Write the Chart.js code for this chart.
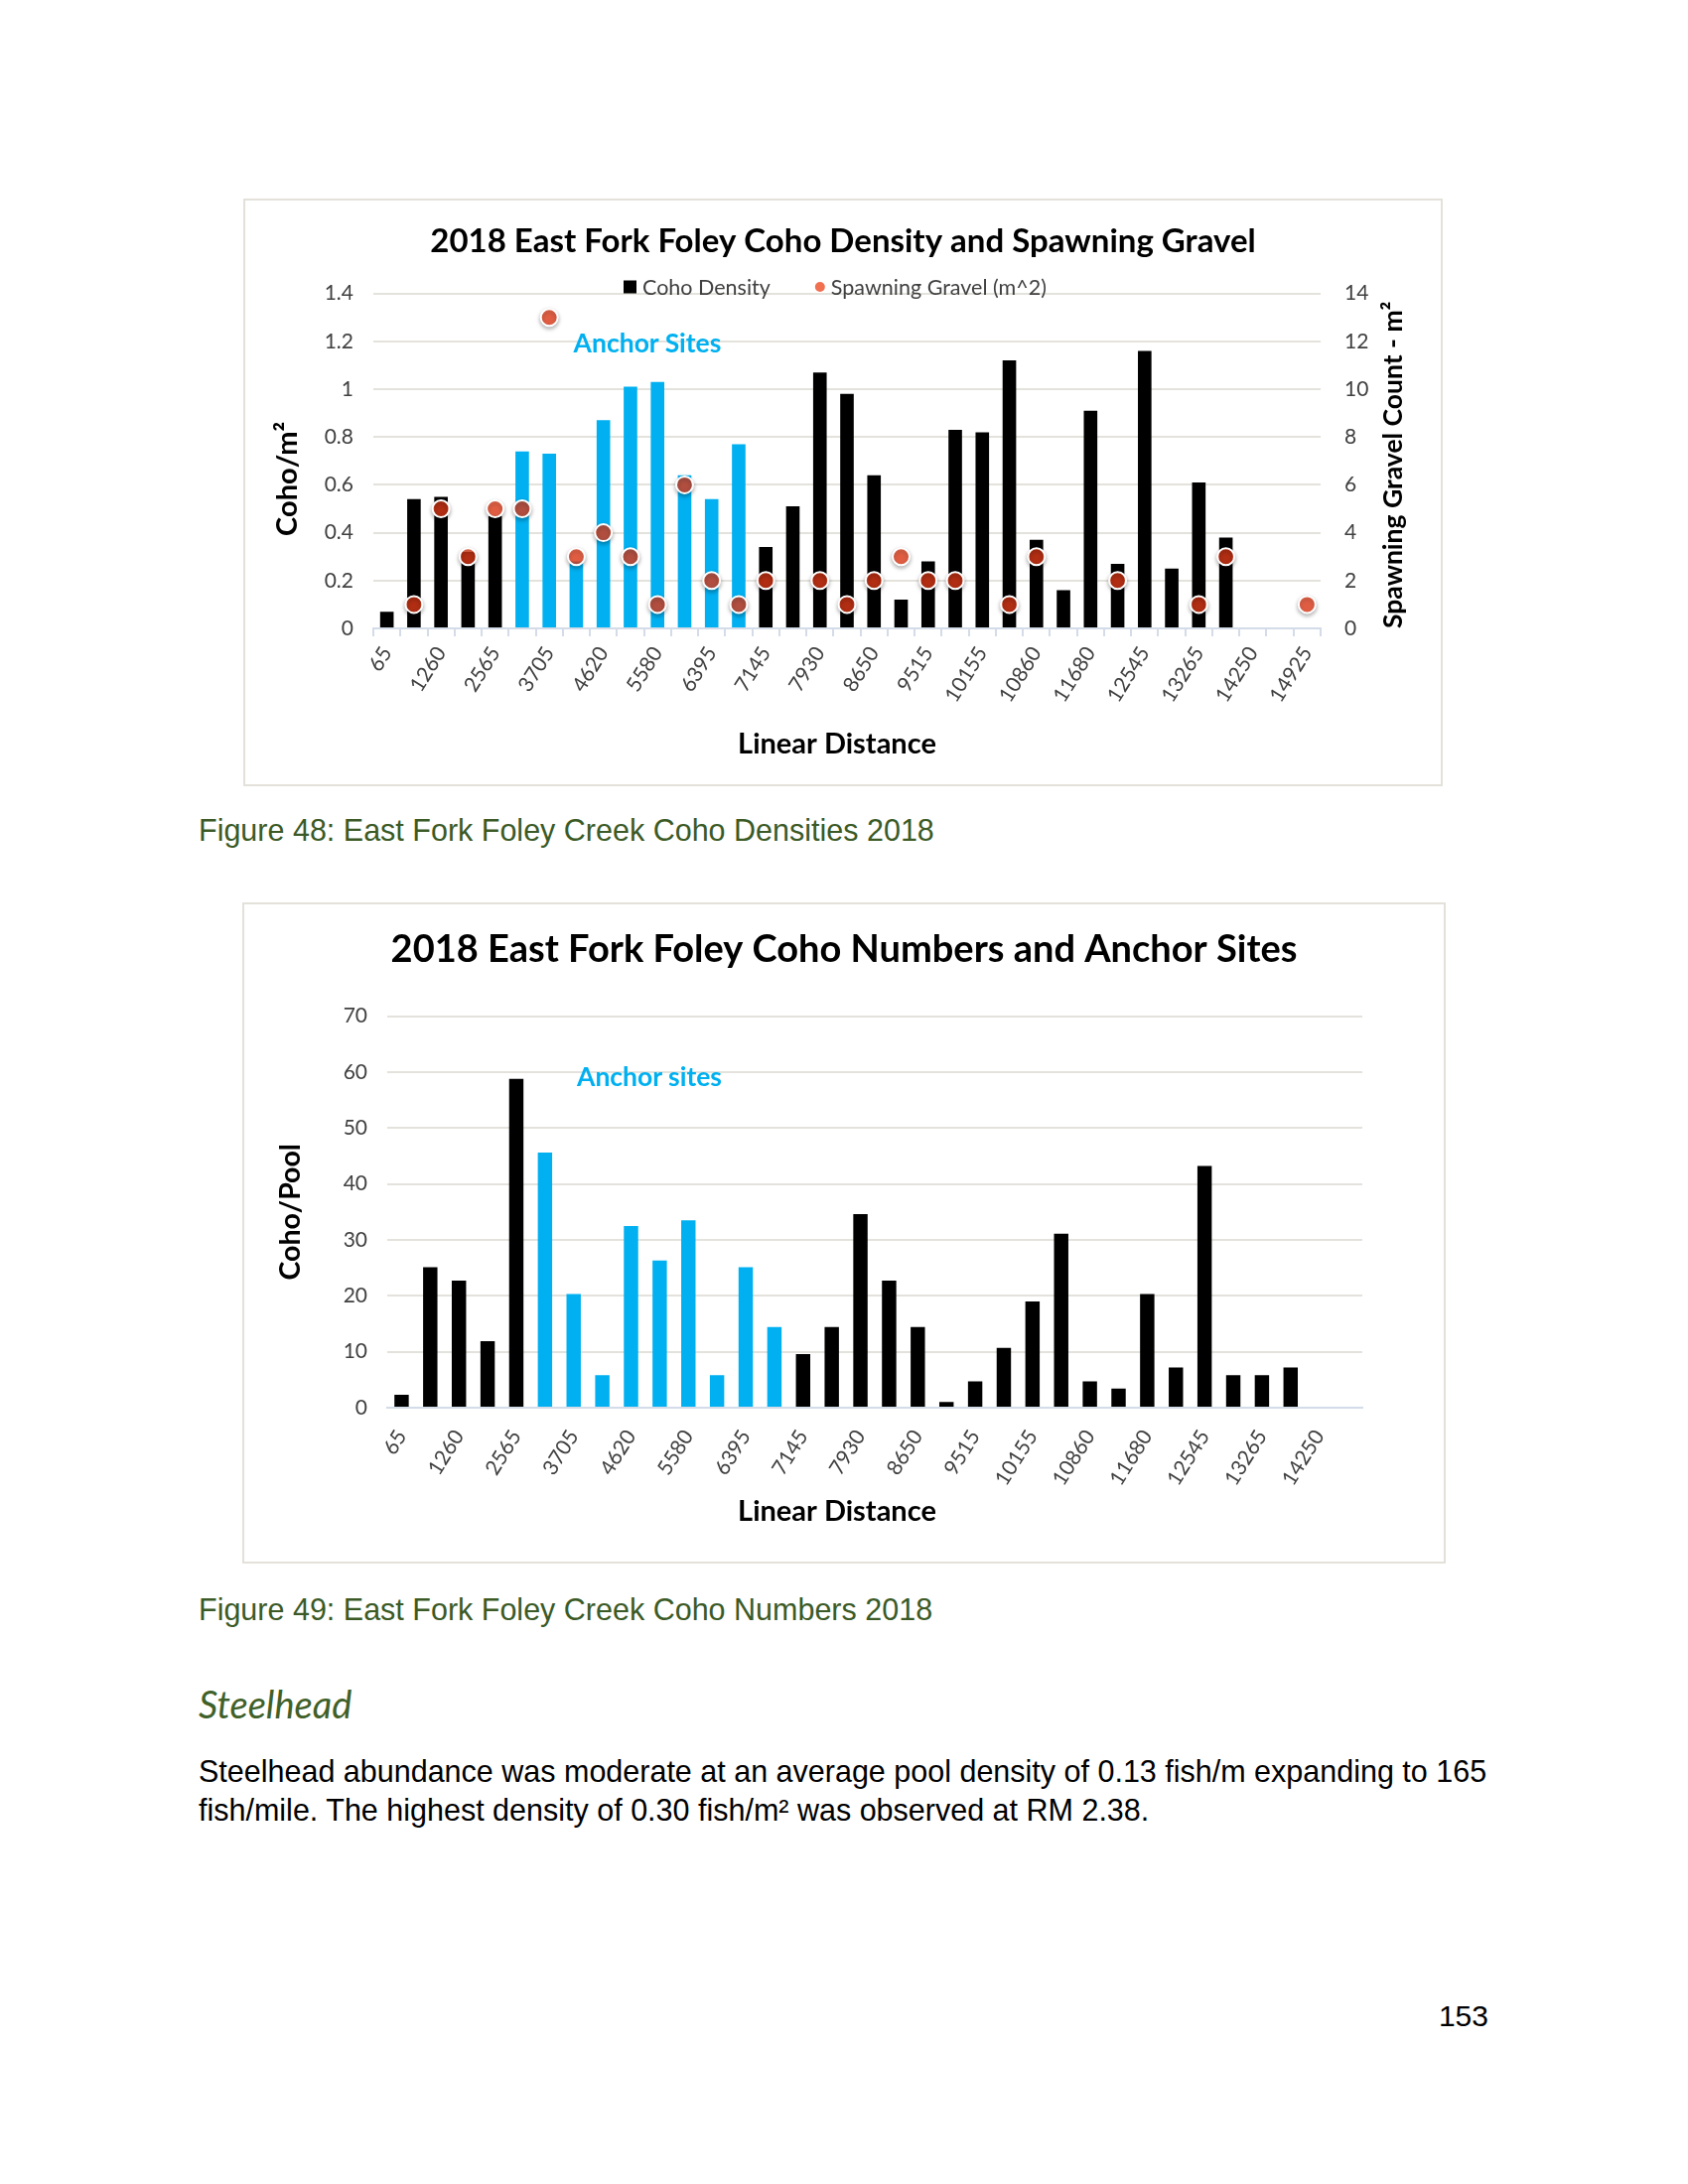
<!DOCTYPE html>
<html>
<head>
<meta charset="utf-8">
<script src="https://cdn.jsdelivr.net/npm/chart.js@4.4.0/dist/chart.umd.min.js"></script>
<style>
  body { margin: 0; background: #fff; }
  #page { position: relative; width: 1700px; height: 2200px; overflow: hidden; font-family: 'Liberation Sans', Arial, sans-serif; }
  .frame { position: absolute; border: 2px solid #e3e1d9; box-sizing: border-box; }
  canvas { position: absolute; }
  .anchor { position: absolute; font-family: Lato, sans-serif; font-weight: bold; color: #00b0f0; font-size: 26.5px; transform: translate(-50%, -50%); white-space: nowrap; }
  .caption { position: absolute; left: 200px; color: #3b5a26; font-size: 30.5px; line-height: 1; }
  .heading { position: absolute; left: 200px; top: 1697px; color: #3f6028; font-family: Lato, sans-serif; font-style: italic; font-size: 38px; line-height: 1; }
  .para { position: absolute; left: 200px; top: 1765px; font-size: 30.5px; line-height: 39px; color: #000; width: 1360px; white-space: nowrap; }
  .pagenum { position: absolute; right: 201px; top: 2016px; font-size: 30px; line-height: 1; }
</style>
</head>
<body>
<div id="page">
  <div class="frame" style="left:245px; top:200px; width:1208px; height:592px;"></div>
  <canvas id="c1" width="1204" height="588" style="left:247px; top:202px;"></canvas>
  <div class="anchor" style="left:652px; top:345px;">Anchor Sites</div>
  <div class="caption" style="top:821px;">Figure 48: East Fork Foley Creek Coho Densities 2018</div>

  <div class="frame" style="left:244px; top:909px; width:1212px; height:666px;"></div>
  <canvas id="c2" width="1208" height="662" style="left:246px; top:911px;"></canvas>
  <div class="anchor" style="left:654px; top:1084px;">Anchor sites</div>
  <div class="caption" style="top:1606px;">Figure 49: East Fork Foley Creek Coho Numbers 2018</div>

  <div class="heading">Steelhead</div>
  <div class="para">Steelhead abundance was moderate at an average pool density of 0.13 fish/m expanding to 165<br>fish/mile. The highest density of 0.30 fish/m² was observed at RM 2.38.</div>
  <div class="pagenum">153</div>
</div>
<script>
// etiquetas visibles, una de cada dos categorias
const tickLabels = ['65', '1260', '2565', '3705', '4620', '5580', '6395', '7145', '7930', '8650',
  '9515', '10155', '10860', '11680', '12545', '13265', '14250', '14925']
const densityCount = 35
const numbersCount = 34
const anchorSites = [5, 6, 7, 8, 9, 10, 11, 12, 13]

const cohoDensity = [0.07, 0.54, 0.55, 0.32, 0.47, 0.74, 0.73, 0.28, 0.87, 1.01, 1.03, 0.64, 0.54, 0.77,
  0.34, 0.51, 1.07, 0.98, 0.64, 0.12, 0.28, 0.83, 0.82, 1.12, 0.37, 0.16, 0.91, 0.27, 1.16, 0.25,
  0.61, 0.38, null, null, null]
const spawningGravel = [null, 1, 5, 3, 5, 5, 13, 3, 4, 3, 1, 6, 2, 1, 2, null, 2, 1, 2, 3, 2, 2, null,
  1, 3, null, null, 2, null, null, 1, 3, null, null, 1]
const cohoPerPool = [2.3, 25.1, 22.7, 11.9, 58.8, 45.6, 20.3, 5.8, 32.5, 26.3, 33.5, 5.8, 25.1, 14.4,
  9.6, 14.4, 34.6, 22.7, 14.4, 1.0, 4.7, 10.7, 19.0, 31.1, 4.7, 3.4, 20.3, 7.2, 43.2, 5.8, 5.8, 7.2,
  null, null]

const BLACK = '#000000'
const BLUE = '#00b0f0'
const GRID = '#e4e2dc'
const AXIS = '#d3dce8'
const TICK = '#404040'

const makeCategories = (count) => Array.from({ length: count }, (_, i) => i % 2 === 0 ? tickLabels[i / 2] : '')
const barColors = (count) => Array.from({ length: count }, (_, i) => anchorSites.includes(i) ? BLUE : BLACK)

Chart.defaults.font.family = 'Lato'
Chart.defaults.animation = false

const dotShadow = {
  id: 'dotShadow',
  beforeDatasetDraw (chart, args) {
    if (chart.data.datasets[args.index].type !== 'line') return
    const ctx = chart.ctx
    ctx.save()
    ctx.shadowColor = 'rgba(0,0,0,0.35)'
    ctx.shadowBlur = 4
    ctx.shadowOffsetY = 2
  },
  afterDatasetDraw (chart, args) {
    if (chart.data.datasets[args.index].type !== 'line') return
    chart.ctx.restore()
  }
}

// titulo del eje x centrado en el grafico, como en Excel
const xTitle = {
  id: 'xTitle',
  afterDraw (chart, args, opts) {
    const ctx = chart.ctx
    ctx.save()
    ctx.fillStyle = BLACK
    ctx.font = 'bold 29px Lato'
    ctx.textAlign = 'center'
    ctx.textBaseline = 'middle'
    ctx.fillText('Linear Distance', opts.x, opts.y)
    ctx.restore()
  }
}

// leyenda y titulos de ejes del primer grafico
const densityDecor = {
  id: 'densityDecor',
  afterDraw (chart) {
    const ctx = chart.ctx
    const area = chart.chartArea
    ctx.save()
    // leyenda
    const ly = 87
    ctx.font = '21.5px Lato'
    ctx.textBaseline = 'middle'
    let x = 381
    ctx.fillStyle = BLACK
    ctx.fillRect(x, ly - 6.5, 13, 13)
    x += 19
    ctx.fillStyle = TICK
    ctx.fillText('Coho Density', x, ly + 1)
    x += ctx.measureText('Coho Density').width + 45
    ctx.fillStyle = '#f07050'
    ctx.beginPath()
    ctx.arc(x + 5, ly, 5, 0, Math.PI * 2)
    ctx.fill()
    x += 16
    ctx.fillStyle = TICK
    ctx.fillText('Spawning Gravel (m^2)', x, ly + 1)
    // titulos de ejes verticales
    ctx.fillStyle = BLACK
    ctx.textAlign = 'center'
    ctx.font = 'bold 29px Lato'
    ctx.translate(43, area.top + (area.bottom - area.top) / 2 + 18)
    ctx.rotate(-Math.PI / 2)
    ctx.fillText('Coho/m²', 0, 0)
    ctx.restore()
    ctx.save()
    ctx.fillStyle = BLACK
    ctx.textAlign = 'center'
    ctx.textBaseline = 'middle'
    ctx.font = 'bold 26.5px Lato'
    ctx.translate(chart.width - 48, area.top + (area.bottom - area.top) / 2 + 4)
    ctx.rotate(-Math.PI / 2)
    ctx.fillText('Spawning Gravel Count - m²', 0, 0)
    ctx.restore()
  }
}

const xAxis = (labels, withTicks, pad) => ({
  type: 'category',
  offset: true,
  grid: { display: true, drawOnChartArea: false, drawTicks: withTicks, tickLength: 8, color: AXIS, lineWidth: 2 },
  border: { display: true, color: AXIS, width: 2 },
  ticks: {
    autoSkip: false, minRotation: 58, maxRotation: 58, padding: pad,
    color: TICK, font: { size: 21 },
    callback: (v, i) => labels[i]
  }
})

const categories1 = makeCategories(densityCount)
new Chart(document.getElementById('c1'), {
  type: 'bar',
  data: {
    labels: categories1,
    datasets: [
      {
        label: 'Coho Density',
        data: cohoDensity,
        yAxisID: 'y',
        backgroundColor: barColors(densityCount),
        barPercentage: 1,
        categoryPercentage: 0.5,
        order: 1
      },
      {
        type: 'line',
        label: 'Spawning Gravel (m^2)',
        data: spawningGravel,
        yAxisID: 'y1',
        showLine: false,
        pointRadius: 8.5,
        pointHoverRadius: 8.5,
        pointBackgroundColor: 'rgba(236,62,26,0.75)',
        pointBorderColor: '#ffffff',
        pointBorderWidth: 2,
        order: 0
      }
    ]
  },
  options: {
    responsive: false,
    layout: { padding: { left: 0, right: 0, top: 0, bottom: 0 } },
    plugins: {
      legend: { display: false },
      tooltip: { enabled: false },
      xTitle: { x: 596, y: 548 },
      title: {
        display: true,
        text: '2018 East Fork Foley Coho Density and Spawning Gravel',
        color: BLACK,
        font: { size: 33, weight: 'bold' },
        padding: { top: 22, bottom: 32 }
      }
    },
    scales: {
      x: Object.assign(xAxis(categories1, true, 6), {
        afterFit: (scale) => { scale.height = 157 }
      }),
      y: {
        position: 'left', min: 0, max: 1.4,
        ticks: { stepSize: 0.2, color: TICK, font: { size: 21 }, padding: 20, callback: v => String(Math.round(v * 10) / 10) },
        grid: { color: GRID, lineWidth: 2, drawTicks: false },
        border: { display: false },
        afterFit: (scale) => { scale.width = 129 }
      },
      y1: {
        position: 'right', min: 0, max: 14,
        ticks: { stepSize: 2, color: TICK, font: { size: 21 }, padding: 24 },
        grid: { drawOnChartArea: false, drawTicks: false },
        border: { display: false },
        afterFit: (scale) => { scale.width = 121 }
      }
    }
  },
  plugins: [dotShadow, densityDecor, xTitle]
})

const categories2 = makeCategories(numbersCount)
new Chart(document.getElementById('c2'), {
  type: 'bar',
  data: {
    labels: categories2,
    datasets: [
      {
        label: 'Coho/Pool',
        data: cohoPerPool,
        backgroundColor: barColors(numbersCount),
        barPercentage: 1,
        categoryPercentage: 0.5
      }
    ]
  },
  options: {
    responsive: false,
    layout: { padding: { left: 0, right: 0, top: 0, bottom: 0 } },
    plugins: {
      legend: { display: false },
      tooltip: { enabled: false },
      xTitle: { x: 597, y: 612 },
      title: {
        display: true,
        text: '2018 East Fork Foley Coho Numbers and Anchor Sites',
        color: BLACK,
        font: { size: 38, weight: 'bold' },
        padding: { top: 23, bottom: 44 }
      }
    },
    scales: {
      x: Object.assign(xAxis(categories2, false, 18), {
        afterFit: (scale) => { scale.height = 155 }
      }),
      y: {
        min: 0, max: 70,
        ticks: { stepSize: 10, color: TICK, font: { size: 21 }, padding: 20 },
        grid: { color: GRID, lineWidth: 2, drawTicks: false },
        border: { display: false },
        title: { display: true, text: 'Coho/Pool', color: BLACK, font: { size: 28.5, weight: 'bold' }, padding: { top: 30, bottom: 0 } },
        afterFit: (scale) => { scale.width = 144 }
      },
      // eje vacio a la derecha solo para reservar el margen
      yPad: {
        type: 'linear', position: 'right', min: 0, max: 70,
        ticks: { display: false },
        grid: { display: false },
        border: { display: false },
        afterFit: (scale) => { scale.width = 82 }
      }
    }
  },
  plugins: [xTitle]
})
</script>
</body>
</html>
